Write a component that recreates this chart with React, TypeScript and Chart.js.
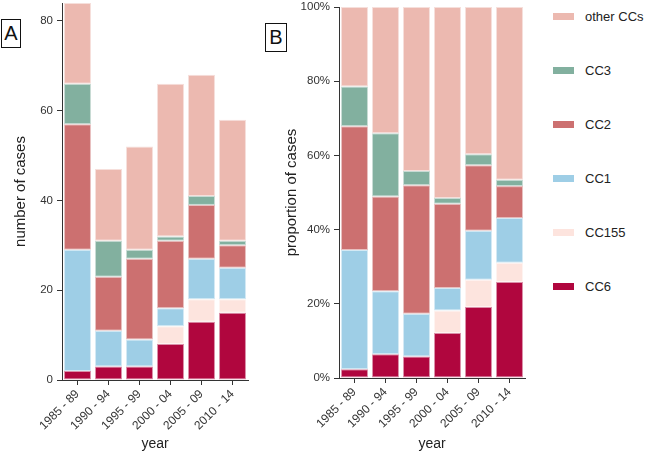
import React, { useEffect, useRef } from "react";
import { Chart, registerables } from "chart.js";
Chart.register(...registerables);

const categories = ["1985 - 89", "1990 - 94", "1995 - 99", "2000 - 04", "2005 - 09", "2010 - 14"];
const seriesNames = ["CC6", "CC155", "CC1", "CC2", "CC3", "other CCs"];
const cc6 = [2, 3, 3, 8, 13, 15];
const cc155 = [0, 0, 0, 4, 5, 3];
const cc1 = [27, 8, 6, 4, 9, 7];
const cc2 = [28, 12, 18, 15, 12, 5];
const cc3 = [9, 8, 2, 1, 2, 1];
const otherCCs = [18, 16, 23, 34, 27, 27];
const countTicks = [0, 20, 40, 60, 80];
const percentTicks = [0, 20, 40, 60, 80, 100];
const seriesColors = ["#B0063E", "#FDE4DE", "#9ECEE6", "#CC7070", "#82B09F", "#ECB9B0"];
const seriesBorders = [
  "rgba(176,6,62,0.45)",
  "rgba(253,228,222,0.45)",
  "rgba(158,206,230,0.45)",
  "rgba(204,112,112,0.45)",
  "rgba(130,176,159,0.45)",
  "rgba(236,185,176,0.45)",
];

const FONT = "'Liberation Sans', Arial, Helvetica, sans-serif";
const allSeries = [cc6, cc155, cc1, cc2, cc3, otherCCs];
const totals = categories.map((_, i) => allSeries.reduce((s, arr) => s + arr[i], 0));

function makeDatasets(percent: boolean) {
  return allSeries.map((arr, k) => ({
    label: seriesNames[k],
    data: percent ? arr.map((v, i) => (v / totals[i]) * 100) : arr,
    backgroundColor: seriesColors[k],
    borderColor: seriesBorders[k],
    borderWidth: 1,
    borderSkipped: false as any,
    barPercentage: 0.87,
    categoryPercentage: 1,
  }));
}

function makeOptions(opts: {
  yMax: number;
  yTicks: number[];
  yTitle: string;
  yWidth: number;
  yTitlePad: number;
  xHeight: number;
  percent: boolean;
  padTop: number;
  padRight: number;
}): any {
  return {
    responsive: false,
    animation: false,
    layout: { padding: { top: opts.padTop, right: opts.padRight, left: 0, bottom: 0 } },
    plugins: { legend: { display: false }, tooltip: { enabled: false } },
    scales: {
      x: {
        stacked: true,
        border: { display: true, color: "#333", width: 1 },
        grid: { display: true, drawOnChartArea: false, offset: false, tickLength: 5, color: "#333" },
        ticks: {
          minRotation: 45,
          maxRotation: 45,
          autoSkip: false,
          padding: 2,
          color: "#333",
          font: { family: FONT, size: 12 },
        },
        title: {
          display: true,
          text: "year",
          color: "#222",
          font: { family: FONT, size: 14 },
          padding: { top: 0, bottom: 0 },
        },
        afterFit: (s: any) => {
          s.height = opts.xHeight;
          s.paddingLeft = 0;
          s.paddingRight = 0;
        },
      },
      y: {
        stacked: true,
        min: 0,
        max: opts.yMax,
        border: { display: true, color: "#333", width: 1 },
        grid: { display: true, drawOnChartArea: false, tickLength: 5, color: "#333" },
        ticks: {
          padding: 4,
          color: "#333",
          font: { family: FONT, size: 11.5 },
          callback: (v: any) => (opts.percent ? `${v}%` : `${v}`),
        },
        title: {
          display: true,
          text: opts.yTitle,
          color: "#222",
          font: { family: FONT, size: 15 },
          padding: { top: opts.yTitlePad, bottom: 0 },
        },
        afterBuildTicks: (s: any) => {
          s.ticks = opts.yTicks.map((v) => ({ value: v }));
        },
        afterFit: (s: any) => {
          s.width = opts.yWidth;
          s.paddingTop = 0;
          s.paddingBottom = 0;
        },
      },
    },
  };
}

export default function App() {
  const refA = useRef<HTMLCanvasElement | null>(null);
  const refB = useRef<HTMLCanvasElement | null>(null);

  useEffect(() => {
    const chartA = new Chart(refA.current as HTMLCanvasElement, {
      type: "bar",
      data: { labels: categories, datasets: makeDatasets(false) as any },
      options: makeOptions({
        yMax: 84,
        yTicks: countTicks,
        yTitle: "number of cases",
        yWidth: 62,
        yTitlePad: 12,
        xHeight: 73,
        percent: false,
        padTop: 3,
        padRight: 4,
      }),
    });
    const chartB = new Chart(refB.current as HTMLCanvasElement, {
      type: "bar",
      data: { labels: categories, datasets: makeDatasets(true) as any },
      options: makeOptions({
        yMax: 100,
        yTicks: percentTicks,
        yTitle: "proportion of cases",
        yWidth: 77,
        yTitlePad: 21,
        xHeight: 75,
        percent: true,
        padTop: 7,
        padRight: 5,
      }),
    });
    return () => {
      chartA.destroy();
      chartB.destroy();
    };
  }, []);

  const legendCenters = [16, 70, 124, 178, 232, 286];
  const legendOrder = [5, 4, 3, 2, 1, 0];

  const boxStyle = (left: number, top: number, w: number, h: number): React.CSSProperties => ({
    position: "absolute",
    left,
    top,
    width: w,
    height: h,
    boxSizing: "border-box",
    border: "1.5px solid #111",
    display: "flex",
    alignItems: "center",
    justifyContent: "center",
    fontFamily: FONT,
    fontSize: 20,
    color: "#111",
    background: "#fff",
    zIndex: 2,
  });

  return (
    <div
      style={{
        position: "absolute",
        left: 0,
        top: 0,
        width: 645,
        height: 453,
        background: "#fff",
        overflow: "hidden",
        fontFamily: FONT,
      }}
    >
      <canvas ref={refA} width={252} height={453} style={{ position: "absolute", left: 0, top: 0 }} />
      <canvas ref={refB} width={268} height={453} style={{ position: "absolute", left: 262, top: 0 }} />
      <div style={boxStyle(1, 19, 20, 29)}>A</div>
      <div style={boxStyle(265, 23, 22, 29)}>B</div>
      {legendOrder.map((k, i) => (
        <div
          key={seriesNames[k]}
          style={{
            position: "absolute",
            left: 553,
            top: legendCenters[i] - 8,
            height: 16,
            display: "flex",
            alignItems: "center",
            whiteSpace: "nowrap",
          }}
        >
          <span style={{ display: "inline-block", width: 21, height: 7, background: seriesColors[k] }} />
          <span style={{ marginLeft: 11, fontSize: 13, color: "#222" }}>{seriesNames[k]}</span>
        </div>
      ))}
    </div>
  );
}
